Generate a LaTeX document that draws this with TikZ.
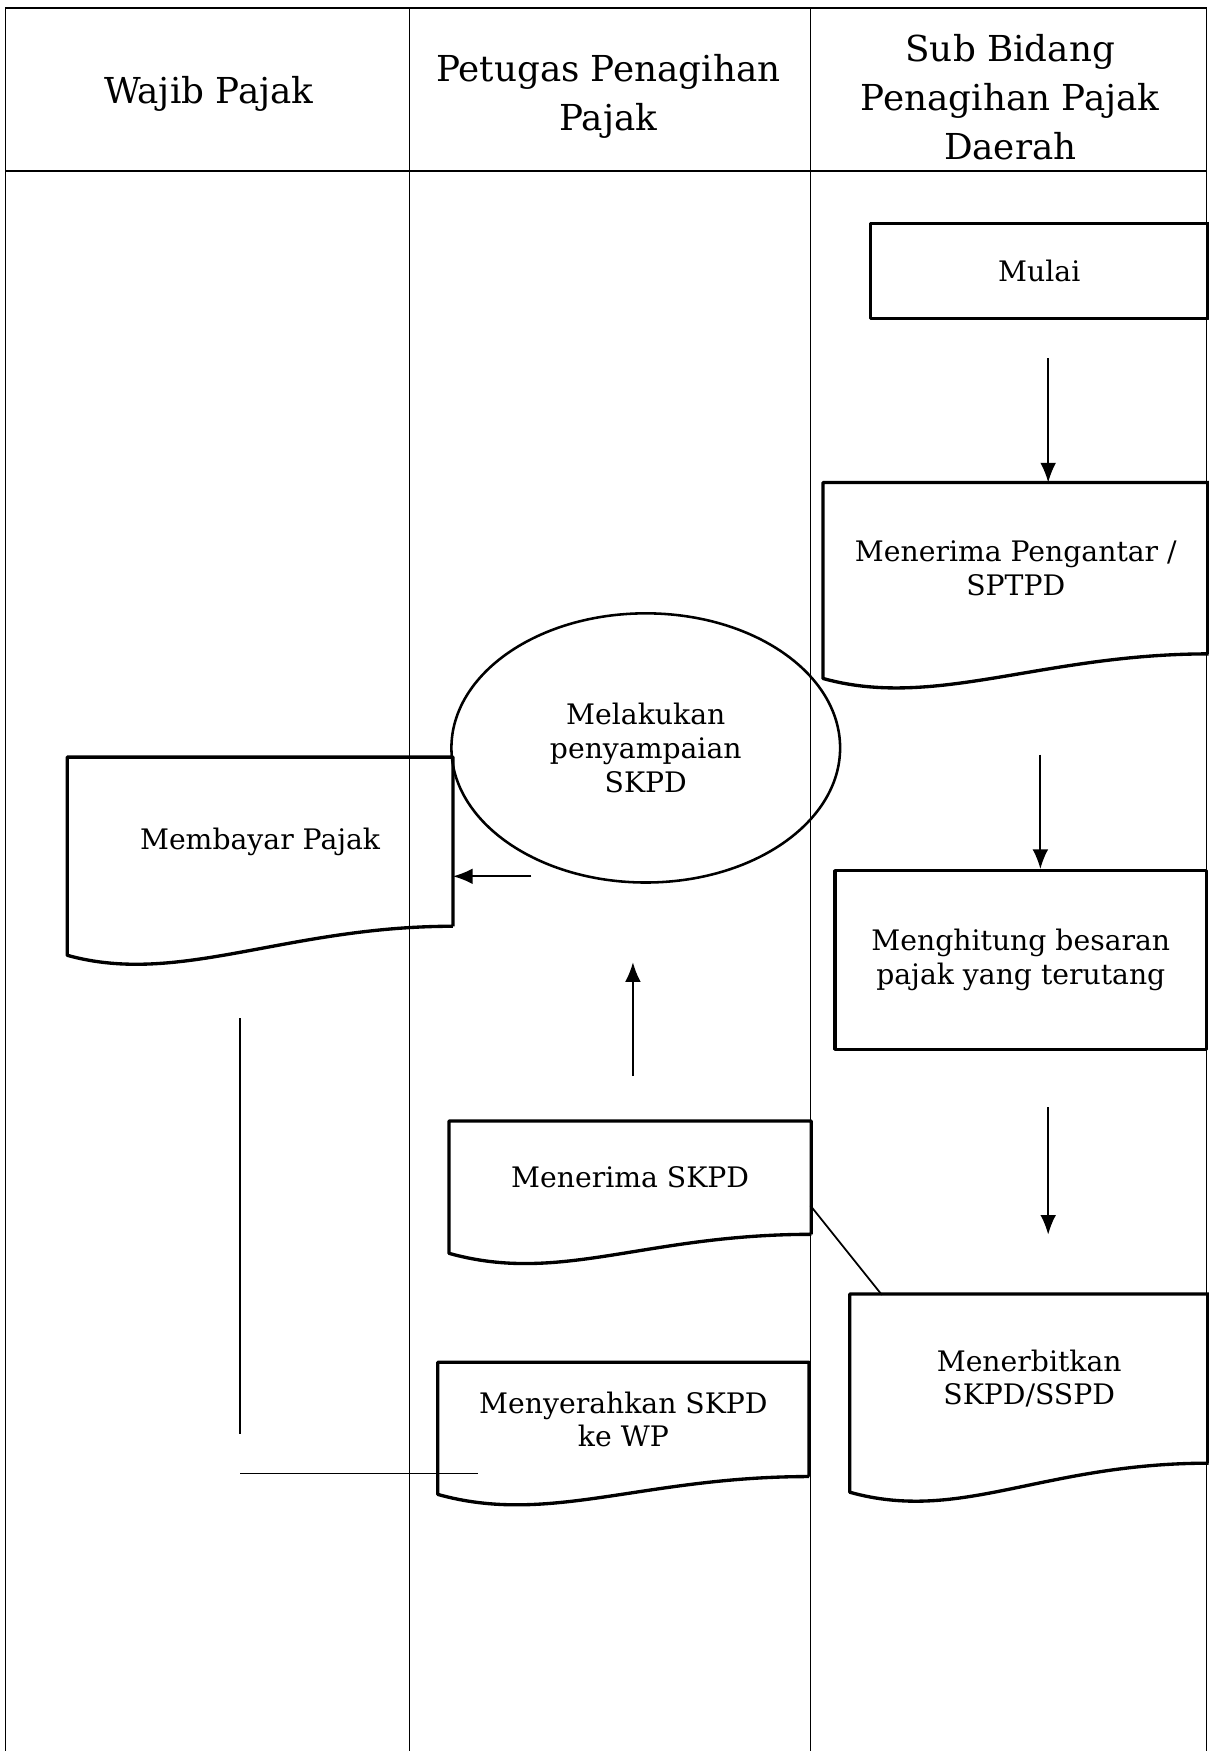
\documentclass[tikz,border=0pt]{standalone}
\usepackage{fontspec}
\setmainfont{DejaVu Serif}
\usetikzlibrary{shapes.geometric,arrows.meta}

% document outline with a wavy bottom edge (#2 = extra drop on the left)
\newcommand{\docwave}[2]{%
  \draw[boxline] (#1.south east) -- (#1.north east) -- (#1.north west) -- (#1.south west) -- ++(0,#2)
    .. controls +(100,28) and +(-150,0) .. (#1.south east);}

\begin{document}
\begin{tikzpicture}[x=0.01cm, y=-0.01cm]

      \tikzset{lane/.style={line width=0.4pt},
               boxline/.style={line width=0.85pt, line join=round},
               head/.style={align=center, inner sep=0pt, font=\fontsize{9.1}{12.5}\selectfont},
               txt/.style={align=center, inner sep=0pt, font=\fontsize{7.2}{8.6}\selectfont},
               docbox/.style={txt, rectangle},
               procbox/.style={txt, rectangle, draw, boxline},
               oval/.style={txt, ellipse, draw, line width=0.65pt},
               conn/.style={line width=0.45pt},
               arr/.style={conn, -{Latex[length=5pt,width=4pt]}}}

      \useasboundingbox (0,0) rectangle (1083,1568.6);
%% Lanes
      \draw[lane] (5,1568.6) -- (5,7) -- (1081,7) -- (1081,1568.6);
      \draw[lane] (5,153) -- (1081,153);
      \foreach \x in {367,726} \draw[lane] (\x,7) -- (\x,1568.6);

      \node[head] (h1) at (187,84) {Wajib Pajak};
      \node[head] (h2) at (545,86) {Petugas Penagihan\\Pajak};
      \node[head] (h3) at (905,87) {Sub Bidang\\Penagihan Pajak\\Daerah};

%% Sub Bidang
      \node[procbox, minimum width=3.02cm, minimum height=0.85cm] (mulai) at (931,242.5) {Mulai};
      \node[docbox, minimum width=3.44cm, minimum height=1.52cm] (pengantar) at (910,509) {Menerima Pengantar /\\SPTPD};
      \node[procbox, minimum width=3.33cm, minimum height=1.60cm] (hitung) at (914.5,860) {Menghitung besaran\\pajak yang terutang};
      \node[docbox, minimum width=3.20cm, minimum height=1.50cm] (terbit) at (922,1235) {Menerbitkan\\SKPD/SSPD};

%% Petugas
      \node[oval, minimum width=3.48cm, minimum height=2.41cm] (sampai) at (578.5,670) {Melakukan\\penyampaian\\SKPD};
      \node[docbox, minimum width=3.23cm, minimum height=1.00cm] (terima) at (564.5,1055) {Menerima SKPD};
      \node[docbox, minimum width=3.31cm, minimum height=1.01cm] (serah) at (558.5,1271.5) {Menyerahkan SKPD\\ke WP};

%% Wajib Pajak
      \node[docbox, minimum width=3.44cm, minimum height=1.50cm] (bayar) at (233,754) {Membayar Pajak};

      \docwave{pengantar}{22}
      \docwave{terbit}{26}
      \docwave{terima}{17}
      \docwave{serah}{16}
      \docwave{bayar}{26}

%% Arrows
      \coordinate (p1) at (939,321);
      \coordinate (p2) at (932,676);
      \coordinate (p3) at (939,992);
      \coordinate (p3e) at (939,1106);
      \coordinate (p4) at (567,964);
      \coordinate (p4e) at (567,862);
      \coordinate (p5) at (476,785);
      \draw[arr] (p1) -- (p1 |- pengantar.north);
      \draw[arr] (p2) -- (p2 |- hitung.north);
      \draw[arr] (p3) -- (p3e);
      \draw[arr] (p4) -- (p4e);
      \draw[arr] (p5) -- (p5 -| bayar.east);

%% Lines
      \coordinate (q1) at (726,1080);
      \coordinate (q2) at (790,1160);
      \coordinate (r1) at (215,912);
      \coordinate (r2) at (215,1285);
      \coordinate (r3) at (215,1320);
      \coordinate (r4) at (428,1320);
      \draw[conn] (q1) -- (q2);
      \draw[conn] (r1) -- (r2);
      \draw[conn] (r3) -- (r4);

\end{tikzpicture}
\end{document}
